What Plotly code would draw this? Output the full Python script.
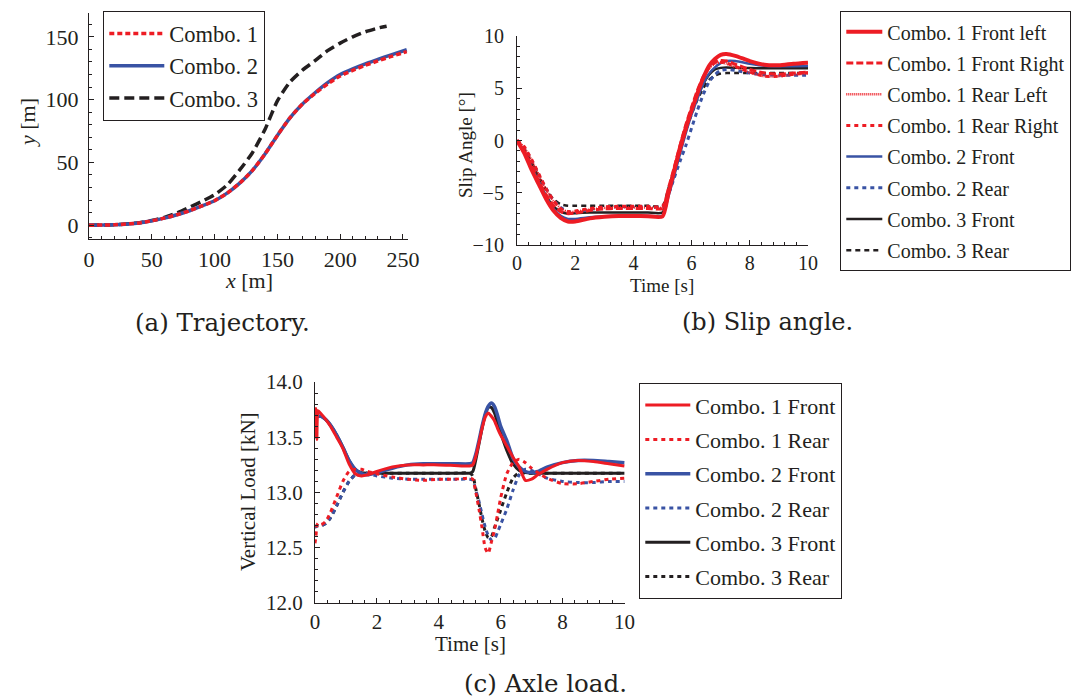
import plotly.graph_objects as go

W, H = 1075, 700
RED = "#ED1C24"
BLUE = "#3953A4"
BLACK = "#231F20"
SERIF = "Liberation Serif"

# ---------------- (a) Trajectory ----------------
traj_x12 = [0, 20, 40, 50, 60, 70, 80, 90, 100, 110, 120, 130, 140, 150, 160, 170, 180, 190, 200, 210, 220, 230, 240, 253]
traj_y1 = [0, 0.3, 1.8, 3.5, 5.6, 8.3, 11.5, 15.3, 19.5, 25.5, 33.5, 43.5, 56.5, 71.5, 85.5, 96.5, 105, 112.5, 118.8, 123.3, 127.3, 130.8, 134.2, 138.2]
traj_y2 = [0, 0.3, 1.8, 3.5, 5.6, 8.3, 11.5, 15.3, 19.5, 25.5, 33.5, 43.5, 56.5, 71.5, 85.5, 96.5, 105.5, 113.5, 120, 124.5, 128.5, 132, 135.5, 139.7]
traj_x3 = [0, 20, 40, 50, 60, 70, 80, 90, 100, 110, 120, 130, 140, 150, 160, 170, 180, 190, 200, 210, 220, 230, 237]
traj_y3 = [0, 0.3, 1.9, 3.7, 6.2, 9.7, 14.3, 19, 24.3, 32, 44, 57.5, 76, 99, 114, 123.5, 131, 139, 145, 150, 154, 157, 158.5]

# ---------------- (b) Slip angle ----------------
t_slip = [0, 0.25, 0.5, 0.75, 1.0, 1.25, 1.5, 1.75, 2.0, 2.5, 3.0, 3.5, 4.0, 4.5, 5.0, 5.2, 5.4, 5.6, 5.8,
          6.0, 6.2, 6.4, 6.6, 6.8, 7.0, 7.2, 7.5, 8.0, 8.5, 9.0, 9.5, 10.0]
slip_c1_fl = [0, -1.2, -2.8, -4.2, -5.6, -6.7, -7.4, -7.75, -7.75, -7.45, -7.3, -7.22, -7.22, -7.25, -7.27, -5.1, -2.9, -0.7, 1.2,
              2.9, 4.5, 6.0, 7.15, 7.8, 8.2, 8.28, 8.1, 7.6, 7.25, 7.2, 7.35, 7.45]
slip_c1_fr = [0, -1.0, -2.4, -3.9, -5.2, -6.2, -6.8, -7.0, -6.95, -6.7, -6.55, -6.5, -6.5, -6.5, -6.5, -4.6, -2.6, -0.5, 1.5,
              3.2, 4.8, 6.1, 7.0, 7.5, 7.65, 7.6, 7.3, 6.8, 6.45, 6.35, 6.45, 6.55]
slip_c1_rl = [0, -0.7, -1.9, -3.3, -4.7, -5.8, -6.5, -6.85, -6.8, -6.6, -6.45, -6.4, -6.4, -6.4, -6.4, -4.9, -3.0, -1.1, 0.9,
              2.8, 4.5, 5.9, 6.9, 7.35, 7.45, 7.35, 7.05, 6.5, 6.15, 6.15, 6.3, 6.4]
slip_c1_rr = [0, -0.6, -1.8, -3.2, -4.6, -5.7, -6.5, -6.8, -6.75, -6.5, -6.35, -6.3, -6.3, -6.3, -6.3, -4.8, -2.9, -1.0, 1.0,
              2.9, 4.6, 6.0, 7.0, 7.45, 7.5, 7.4, 7.1, 6.55, 6.15, 6.15, 6.35, 6.5]
slip_c2_f = [0, -1.1, -2.6, -4.0, -5.4, -6.5, -7.2, -7.5, -7.5, -7.35, -7.25, -7.2, -7.2, -7.2, -7.2, -5.4, -3.4, -1.3, 0.7,
             2.5, 4.0, 5.4, 6.4, 7.0, 7.4, 7.6, 7.6, 7.35, 7.15, 7.1, 7.1, 7.12]
slip_c2_r = [0, -0.7, -1.9, -3.3, -4.6, -5.7, -6.4, -6.8, -6.85, -6.6, -6.4, -6.35, -6.33, -6.33, -6.35, -5.2, -3.6, -2.0, -0.5,
             1.2, 2.9, 4.4, 5.6, 6.3, 6.7, 6.8, 6.7, 6.45, 6.3, 6.25, 6.25, 6.25]
slip_c3_f = [0, -1.1, -2.6, -4.0, -5.3, -6.3, -6.8, -7.0, -6.95, -6.9, -6.9, -6.9, -6.9, -6.9, -6.9, -5.0, -3.0, -1.0, 1.0,
             2.7, 4.2, 5.4, 6.3, 6.8, 6.95, 6.98, 6.95, 6.93, 6.92, 6.92, 6.92, 6.92]
slip_c3_r = [0, -0.8, -2.1, -3.5, -4.7, -5.6, -6.1, -6.25, -6.25, -6.25, -6.25, -6.25, -6.25, -6.25, -6.25, -4.6, -2.8, -0.9, 0.9,
             2.5, 3.9, 5.0, 5.8, 6.2, 6.4, 6.45, 6.45, 6.45, 6.45, 6.45, 6.45, 6.45]

# ---------------- (c) Axle load ----------------
t_load = [0, 0.03, 0.06, 0.1, 0.2, 0.35, 0.5, 0.7, 0.9, 1.1, 1.3, 1.5, 1.7, 2.0, 2.5, 3.0, 3.5, 4.0, 4.5, 5.0,
          5.1, 5.2, 5.3, 5.4, 5.5, 5.6, 5.7, 5.8, 5.9, 6.0, 6.2, 6.4, 6.6, 6.8, 7.0, 7.2, 7.5, 8.0, 8.5, 9.0, 9.5, 10.0]
load_c1_f = [13.5, 13.76, 13.48, 13.74, 13.71, 13.66, 13.6, 13.5, 13.4, 13.26, 13.17, 13.15, 13.16, 13.19, 13.23, 13.25, 13.25, 13.25, 13.245, 13.24,
             13.25, 13.33, 13.45, 13.58, 13.68, 13.72, 13.69, 13.65, 13.58, 13.52, 13.42, 13.32, 13.23, 13.11, 13.12, 13.16, 13.21, 13.27, 13.29, 13.28, 13.26, 13.24]
load_c1_r = [12.54, 12.6, 12.7, 12.72, 12.71, 12.74, 12.82, 12.96, 13.1, 13.19, 13.21, 13.21, 13.19, 13.17, 13.14, 13.12, 13.11, 13.12, 13.12, 13.13,
             13.12, 13.0, 12.85, 12.68, 12.5, 12.45, 12.55, 12.66, 12.8, 12.95, 13.17, 13.27, 13.3, 13.27, 13.22, 13.18, 13.13, 13.08, 13.08, 13.1, 13.12, 13.13]
load_c2_f = [13.65, 13.68, 13.69, 13.69, 13.69, 13.66, 13.61, 13.52, 13.41, 13.29, 13.21, 13.17, 13.16, 13.18, 13.22, 13.25, 13.26, 13.26, 13.26, 13.26,
             13.27, 13.35, 13.47, 13.6, 13.71, 13.78, 13.81, 13.78, 13.7, 13.6, 13.47, 13.31, 13.23, 13.19, 13.18, 13.19, 13.23, 13.27, 13.29, 13.29, 13.28, 13.27]
load_c2_r = [12.69, 12.69, 12.7, 12.7, 12.7, 12.72, 12.77, 12.88, 13.0, 13.1, 13.16, 13.18, 13.17, 13.15, 13.13, 13.12, 13.12, 13.12, 13.12, 13.12,
             13.11, 13.02, 12.92, 12.8, 12.69, 12.61, 12.57, 12.58, 12.64, 12.71, 12.85, 13.02, 13.16, 13.21, 13.2, 13.17, 13.13, 13.1, 13.09, 13.09, 13.1, 13.1]
load_c3_f = [13.65, 13.68, 13.69, 13.69, 13.69, 13.66, 13.61, 13.52, 13.41, 13.29, 13.21, 13.18, 13.175, 13.175, 13.175, 13.175, 13.175, 13.175, 13.175, 13.175,
             13.19, 13.3, 13.44, 13.58, 13.7, 13.77, 13.77, 13.72, 13.63, 13.54, 13.38, 13.26, 13.2, 13.18, 13.175, 13.175, 13.175, 13.175, 13.175, 13.175, 13.175, 13.175]
load_c3_r = [12.69, 12.69, 12.7, 12.7, 12.7, 12.72, 12.77, 12.88, 13.0, 13.1, 13.16, 13.18, 13.175, 13.175, 13.175, 13.175, 13.175, 13.175, 13.175, 13.175,
             13.15, 13.03, 12.9, 12.76, 12.65, 12.59, 12.6, 12.68, 12.76, 12.84, 13.0, 13.13, 13.18, 13.175, 13.175, 13.175, 13.175, 13.175, 13.175, 13.175, 13.175, 13.175]

fig = go.Figure()

def add(x, y, name, color, width, dash, xa, ya, legend, rank, group=None):
    fig.add_trace(go.Scatter(
        x=x, y=y, name=name, mode="lines",
        line=dict(color=color, width=width, dash=dash, shape="spline", smoothing=0.6),
        xaxis=xa, yaxis=ya, legend=legend, legendrank=rank,
        legendgroup=group, showlegend=True, hoverinfo="skip"))

# (a)
add(traj_x3, traj_y3, "Combo. 3", BLACK, 3.5, "10px,5px", "x", "y", "legend", 3)
add(traj_x12, traj_y2, "Combo. 2", BLUE, 3.5, "solid", "x", "y", "legend", 2)
add(traj_x12, traj_y1, "Combo. 1", RED, 3.5, "5px,3px", "x", "y", "legend", 1)

# (b)
add(t_slip, slip_c3_r, "Combo. 3 Rear", BLACK, 2.5, "5px,4px", "x2", "y2", "legend2", 8, "b8")
add(t_slip, slip_c3_f, "Combo. 3 Front", BLACK, 2.5, "solid", "x2", "y2", "legend2", 7, "b7")
add(t_slip, slip_c2_r, "Combo. 2 Rear", BLUE, 3, "4px,4px", "x2", "y2", "legend2", 6, "b6")
add(t_slip, slip_c2_f, "Combo. 2 Front", BLUE, 2.5, "solid", "x2", "y2", "legend2", 5, "b5")
add(t_slip, slip_c1_rr, "Combo. 1 Rear Right", RED, 3, "4px,4px", "x2", "y2", "legend2", 4, "b4")
add(t_slip, slip_c1_rl, "Combo. 1 Rear Left", RED, 2.5, "1px,1px", "x2", "y2", "legend2", 3, "b3")
add(t_slip, slip_c1_fr, "Combo. 1 Front Right", RED, 3, "7px,3px", "x2", "y2", "legend2", 2, "b2")
add(t_slip, slip_c1_fl, "Combo. 1 Front left", RED, 4, "solid", "x2", "y2", "legend2", 1, "b1")

# (c)
add(t_load, load_c3_r, "Combo. 3 Rear", BLACK, 3, "4px,4px", "x3", "y3", "legend3", 6, "c6")
add(t_load, load_c3_f, "Combo. 3 Front", BLACK, 3, "solid", "x3", "y3", "legend3", 5, "c5")
add(t_load, load_c2_r, "Combo. 2 Rear", BLUE, 3, "4px,4px", "x3", "y3", "legend3", 4, "c4")
add(t_load, load_c2_f, "Combo. 2 Front", BLUE, 3.5, "solid", "x3", "y3", "legend3", 3, "c3")
add(t_load, load_c1_r, "Combo. 1 Rear", RED, 3, "4px,4px", "x3", "y3", "legend3", 2, "c2")
add(t_load, load_c1_f, "Combo. 1 Front", RED, 3, "solid", "x3", "y3", "legend3", 1, "c1")

def px(v):
    return v / W

def py(v):
    return 1 - v / H

def axis(domain, rng, dtick, minor_dtick, anchor, fmt=None, size=21, standoff=0):
    d = dict(domain=domain, range=rng, dtick=dtick, tick0=0, anchor=anchor,
             showline=True, linecolor=BLACK, linewidth=1.2, mirror=False,
             showgrid=False, zeroline=False, ticks="inside", ticklen=5,
             tickcolor=BLACK, tickwidth=1.2, ticklabelstandoff=standoff,
             tickfont=dict(family=SERIF, size=size, color=BLACK),
             minor=dict(ticks="inside", ticklen=3, dtick=minor_dtick, tickcolor=BLACK, tickwidth=1, showgrid=False),
             fixedrange=True)
    if fmt:
        d["tickformat"] = fmt
    return d

layout = dict(
    width=W, height=H, margin=dict(l=0, r=0, t=0, b=0, autoexpand=False),
    paper_bgcolor="white", plot_bgcolor="white",
    font=dict(family=SERIF, color=BLACK),
    xaxis=axis([px(89), px(408)], [0, 254], 50, 10, "y", size=22, standoff=0),
    yaxis=axis([py(239), py(13)], [-11, 169], 50, 10, "x", size=22, standoff=5),
    xaxis2=axis([px(517), px(808)], [0, 10], 2, 0.4, "y2", size=20, standoff=0),
    yaxis2=axis([py(245), py(36)], [-10, 10], 5, 1, "x2", size=20, standoff=8),
    xaxis3=axis([px(315), px(625)], [0, 10.02], 2, 0.4, "y3", size=21, standoff=0),
    yaxis3=axis([py(603), py(382)], [12, 14], 0.5, 0.1, "x3", fmt=".1f", size=21, standoff=7),
    legend=dict(x=px(103), y=py(11), xanchor="left", yanchor="top",
                bordercolor=BLACK, borderwidth=1.3, bgcolor="white",
                font=dict(family=SERIF, size=22.5, color=BLACK), itemwidth=55),
    legend2=dict(x=px(840), y=py(11), xanchor="left", yanchor="top",
                 bordercolor=BLACK, borderwidth=1.3, bgcolor="white", tracegroupgap=2.2,
                 font=dict(family=SERIF, size=20, color=BLACK), itemwidth=36),
    legend3=dict(x=px(639), y=py(383), xanchor="left", yanchor="top",
                 bordercolor=BLACK, borderwidth=1.3, bgcolor="white", tracegroupgap=2.7,
                 font=dict(family=SERIF, size=22, color=BLACK), itemwidth=45),
)
fig.update_layout(**layout)

def ann(text, x, y, size, angle=0, family=SERIF):
    fig.add_annotation(text=text, x=px(x), y=py(y), xref="paper", yref="paper",
                       showarrow=False, textangle=angle, xanchor="center", yanchor="middle",
                       font=dict(family=family, size=size, color=BLACK))

# axis titles
ann("<i>x</i> [m]", 249, 280, 22)
ann("<i>y</i> [m]", 27, 123, 22, -90)
ann("Time [s]", 662, 285, 19)
ann("Slip Angle [°]", 465, 145, 19, -90)
ann("Time [s]", 470, 644, 21)
ann("Vertical Load [kN]", 248, 492, 21, -90)

# captions
CAP = "DejaVu Serif"
ann("(a) Trajectory.", 222, 322, 24.5, family=CAP)
ann("(b) Slip angle.", 767, 322, 24, family=CAP)
ann("(c) Axle load.", 545, 683, 24.5, family=CAP)

fig.write_html("out.html")
